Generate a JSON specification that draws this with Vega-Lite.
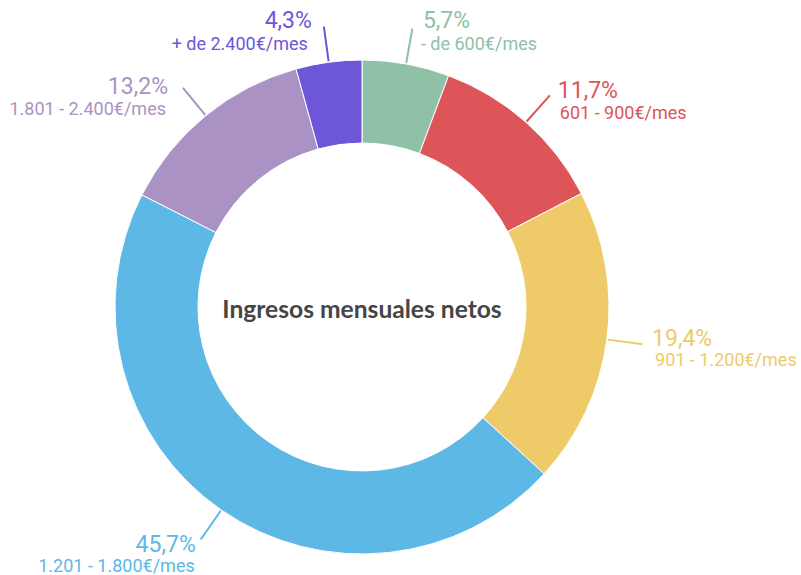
{
  "$schema": "https://vega.github.io/schema/vega-lite/v6.json",
  "autosize": {"type": "none"},
  "padding": {"left": 0, "top": 39, "right": 77, "bottom": 0},
  "width": 724,
  "height": 536,
  "background": "white",
  "view": {"stroke": null},
  "data": {
    "values": [
      {"cat": "- de 600€/mes", "pct": 5.7, "label": "5,7%", "order": 1},
      {"cat": "601 - 900€/mes", "pct": 11.7, "label": "11,7%", "order": 2},
      {"cat": "901 - 1.200€/mes", "pct": 19.4, "label": "19,4%", "order": 3},
      {"cat": "1.201 - 1.800€/mes", "pct": 45.7, "label": "45,7%", "order": 4},
      {"cat": "1.801 - 2.400€/mes", "pct": 13.2, "label": "13,2%", "order": 5},
      {"cat": "+ de 2.400€/mes", "pct": 4.3, "label": "4,3%", "order": 6}
    ]
  },
  "transform": [
    {"stack": "pct", "groupby": [], "sort": [{"field": "order"}], "as": ["start", "end"]},
    {"calculate": "(datum.start + datum.end) / 2", "as": "mid"}
  ],
  "encoding": {
    "color": {
      "field": "cat",
      "type": "nominal",
      "legend": null,
      "scale": {
        "domain": ["- de 600€/mes", "601 - 900€/mes", "901 - 1.200€/mes", "1.201 - 1.800€/mes", "1.801 - 2.400€/mes", "+ de 2.400€/mes"],
        "range": ["#8ec1a5", "#dd5558", "#efca68", "#5db8e6", "#ab92c4", "#6e56d9"]
      }
    }
  },
  "layer": [
    {
      "mark": {"type": "arc", "innerRadius": 164, "outerRadius": 247, "stroke": "white", "strokeWidth": 1},
      "encoding": {
        "theta": {"field": "start", "type": "quantitative", "scale": {"domain": [0, 100]}, "stack": null},
        "theta2": {"field": "end"}
      }
    },
    {
      "mark": {"type": "arc", "innerRadius": 248, "outerRadius": 283, "strokeWidth": 2, "fillOpacity": 0},
      "encoding": {
        "theta": {"field": "mid", "type": "quantitative", "scale": {"domain": [0, 100]}, "stack": null},
        "theta2": {"field": "mid"},
        "stroke": {"field": "cat", "type": "nominal", "legend": null, "scale": {
          "domain": ["- de 600€/mes", "601 - 900€/mes", "901 - 1.200€/mes", "1.201 - 1.800€/mes", "1.801 - 2.400€/mes", "+ de 2.400€/mes"],
          "range": ["#8ec1a5", "#dd5558", "#efca68", "#5db8e6", "#ab92c4", "#6e56d9"]}}
      }
    },
    {
      "transform": [{"filter": "datum.order == 1"}],
      "layer": [
        {"mark": {"type": "text", "font": "Roboto", "fontSize": 23, "radius": 283, "align": "left", "baseline": "alphabetic", "dx": 10.5, "dy": -0.5},
         "encoding": {"theta": {"field": "mid", "type": "quantitative", "stack": null}, "text": {"field": "label"}}},
        {"mark": {"type": "text", "font": "Roboto", "fontSize": 18, "radius": 283, "align": "left", "baseline": "alphabetic", "dx": 8.5, "dy": 21.5},
         "encoding": {"theta": {"field": "mid", "type": "quantitative", "stack": null}, "text": {"field": "cat"}}}
      ]
    },
    {
      "transform": [{"filter": "datum.order == 2"}],
      "layer": [
        {"mark": {"type": "text", "font": "Roboto", "fontSize": 23, "radius": 283, "align": "left", "baseline": "alphabetic", "dx": 8, "dy": 3},
         "encoding": {"theta": {"field": "mid", "type": "quantitative", "stack": null}, "text": {"field": "label"}}},
        {"mark": {"type": "text", "font": "Roboto", "fontSize": 18, "radius": 283, "align": "left", "baseline": "alphabetic", "dx": 10, "dy": 24},
         "encoding": {"theta": {"field": "mid", "type": "quantitative", "stack": null}, "text": {"field": "cat"}}}
      ]
    },
    {
      "transform": [{"filter": "datum.order == 3"}],
      "layer": [
        {"mark": {"type": "text", "font": "Roboto", "fontSize": 23, "radius": 283, "align": "left", "baseline": "alphabetic", "dx": 9.5, "dy": 2},
         "encoding": {"theta": {"field": "mid", "type": "quantitative", "stack": null}, "text": {"field": "label"}}},
        {"mark": {"type": "text", "font": "Roboto", "fontSize": 18, "radius": 283, "align": "left", "baseline": "alphabetic", "dx": 12.5, "dy": 22},
         "encoding": {"theta": {"field": "mid", "type": "quantitative", "stack": null}, "text": {"field": "cat"}}}
      ]
    },
    {
      "transform": [{"filter": "datum.order == 4"}],
      "layer": [
        {"mark": {"type": "text", "font": "Roboto", "fontSize": 23, "radius": 283, "align": "right", "baseline": "alphabetic", "dx": -5, "dy": 12.5},
         "encoding": {"theta": {"field": "mid", "type": "quantitative", "stack": null}, "text": {"field": "label"}}},
        {"mark": {"type": "text", "font": "Roboto", "fontSize": 18, "radius": 283, "align": "right", "baseline": "alphabetic", "dx": -6, "dy": 32.5},
         "encoding": {"theta": {"field": "mid", "type": "quantitative", "stack": null}, "text": {"field": "cat"}}}
      ]
    },
    {
      "transform": [{"filter": "datum.order == 5"}],
      "layer": [
        {"mark": {"type": "text", "font": "Roboto", "fontSize": 23, "radius": 283, "align": "right", "baseline": "alphabetic", "dx": -15, "dy": 6},
         "encoding": {"theta": {"field": "mid", "type": "quantitative", "stack": null}, "text": {"field": "label"}}},
        {"mark": {"type": "text", "font": "Roboto", "fontSize": 18, "radius": 283, "align": "right", "baseline": "alphabetic", "dx": -17, "dy": 27},
         "encoding": {"theta": {"field": "mid", "type": "quantitative", "stack": null}, "text": {"field": "cat"}}}
      ]
    },
    {
      "transform": [{"filter": "datum.order == 6"}],
      "layer": [
        {"mark": {"type": "text", "font": "Roboto", "fontSize": 23, "radius": 283, "align": "right", "baseline": "alphabetic", "dx": -12, "dy": 1.5},
         "encoding": {"theta": {"field": "mid", "type": "quantitative", "stack": null}, "text": {"field": "label"}}},
        {"mark": {"type": "text", "font": "Roboto", "fontSize": 18, "radius": 283, "align": "right", "baseline": "alphabetic", "dx": -16, "dy": 23.5},
         "encoding": {"theta": {"field": "mid", "type": "quantitative", "stack": null}, "text": {"field": "cat"}}}
      ]
    },
    {
      "data": {"values": [{"title": "Ingresos mensuales netos"}]},
      "transform": [],
      "mark": {"type": "text", "font": "Lato", "fontWeight": "bold", "fontSize": 24.6, "align": "center", "baseline": "alphabetic", "dy": 10.5, "color": "#454545"},
      "encoding": {"text": {"field": "title"}, "color": {"value": "#454545"}}
    }
  ]
}
